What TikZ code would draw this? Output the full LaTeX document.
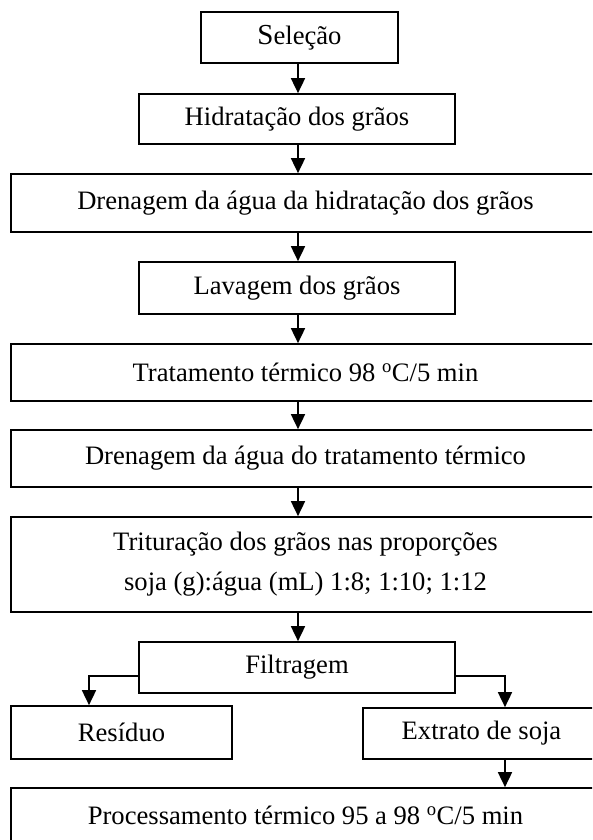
\documentclass[tikz,border=0pt]{standalone}
\usepackage{fontspec}
\setmainfont{Liberation Serif}
\usetikzlibrary{arrows.meta}
\begin{document}
\begin{tikzpicture}[x=1pt,y=-1pt,
  box/.style={draw, line width=1.7pt, inner sep=0pt, align=center,
    font=\fontsize{26.6}{35}\selectfont},
  flow/.style={line width=1.7pt, -{Triangle[width=14pt,length=15pt]}}]
\clip (0,0) rectangle (592,840);
\fill[white] (0,0) rectangle (592,840);
% main vertical axis of the flow
\coordinate (axis) at (298,0);

\node[box, minimum width=197pt, minimum height=51pt] (sel) at (299.5,37.5)
  {{\fontsize{29}{35}\selectfont S}eleção};
\node[box, minimum width=316pt, minimum height=50pt] (hid) at (297,119)
  {Hidratação dos grãos};
\node[box, minimum width=589pt, minimum height=58pt] (dren1) at (305.5,203)
  {Drenagem da água da hidratação dos grãos};
\node[box, minimum width=316pt, minimum height=52pt] (lav) at (297,288)
  {Lavagem dos grãos};
\node[box, minimum width=589pt, minimum height=57pt] (trat) at (305.5,372.5)
  {Tratamento térmico 98 \textsuperscript{o}C/5 min};
\node[box, minimum width=589pt, minimum height=57pt] (dren2) at (305.5,458.5)
  {Drenagem da água do tratamento térmico};
\node[box, minimum width=589pt, minimum height=95pt,
      font=\fontsize{26.6}{40}\selectfont] (trit) at (305.5,564.5)
  {Trituração dos grãos nas proporções\\soja (g):água (mL) 1:8; 1:10; 1:12};
\node[box, minimum width=316pt, minimum height=51pt] (filt) at (297,667.5)
  {Filtragem};
\node[box, minimum width=221pt, minimum height=53pt] (res) at (121.5,732.5)
  {Resíduo};
\node[box, minimum width=237pt, minimum height=51pt] (ext) at (481.5,733.5)
  {Extrato de soja};
\node[box, minimum width=589pt, minimum height=54pt] (proc) at (305.5,815)
  {Processamento térmico 95 a 98 \textsuperscript{o}C/5 min};

% straight steps down the axis
\foreach \a/\b in {sel/hid, hid/dren1, dren1/lav, lav/trat, trat/dren2,
                   dren2/trit, trit/filt}
  \draw[flow] (\a.south -| axis) -- (\b.north -| axis);

% filtration splits into residue and extract
\draw[flow] ([yshift=-8.5pt]filt.west) -| ([xshift=-32.5pt]res.north);
\draw[flow] ([yshift=-8.5pt]filt.east) -| ([xshift=23.5pt]ext.north);
\draw[flow] ([xshift=23.5pt]ext.south) -- ([xshift=23.5pt]ext.south |- proc.north);
\end{tikzpicture}
\end{document}
